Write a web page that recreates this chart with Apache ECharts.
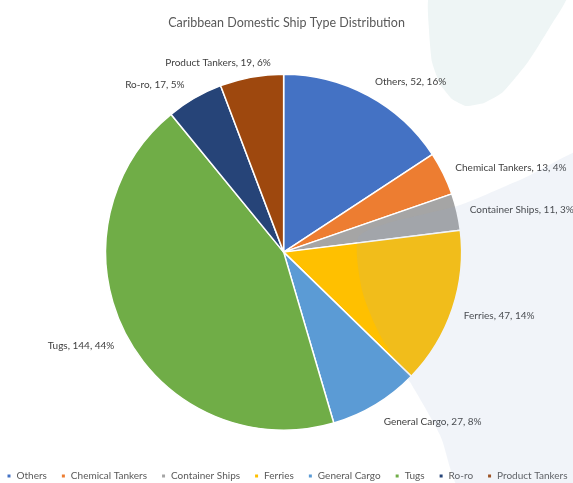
<!DOCTYPE html>
<html>
<head>
<meta charset="utf-8">
<script src="https://cdn.jsdelivr.net/npm/echarts@6/dist/echarts.min.js"></script>
<style>
  html, body { margin: 0; padding: 0; background: #ffffff; }
  #chart { width: 573px; height: 483px; }
</style>
</head>
<body>
<div id="chart"></div>
<script>
// Ship type categories and counts
var shipTypes = ['Others', 'Chemical Tankers', 'Container Ships', 'Ferries', 'General Cargo', 'Tugs', 'Ro-ro', 'Product Tankers'];
var shipCounts = [52, 13, 11, 47, 27, 144, 17, 19];
var sliceColors = ['#4472C4', '#ED7D31', '#A5A5A5', '#FFC000', '#5B9BD5', '#70AD47', '#264478', '#9E480E'];

var total = shipCounts.reduce(function (a, b) { return a + b; }, 0);

// small label nudges (px) so each label sits where a best-fit layout would put it
var labelNudge = {
  'Others': [-3, -5],
  'Chemical Tankers': [-2, -1],
  'Container Ships': [-2, 0],
  'Ferries': [-3, 4],
  'General Cargo': [-2, 9],
  'Tugs': [2, 6],
  'Ro-ro': [0, -5],
  'Product Tankers': [26, -4]
};

var chart = echarts.init(document.getElementById('chart'));

var option = {
  backgroundColor: '#ffffff',
  textStyle: { fontFamily: 'Lato, "Liberation Sans", sans-serif' },
  graphic: [
    {
      // pale leaf shape, top right
      type: 'polygon',
      silent: true,
      z: -10,
      shape: {
        points: [[430, -5], [429, 30], [432, 62], [440, 84], [452, 99], [466, 106], [484, 103], [503, 92], [528, 62], [550, 27], [567, -5]],
        smooth: 0.15
      },
      style: { fill: '#eef5f5' }
    },
    {
      // translucent panel laid over the lower right
      type: 'polygon',
      silent: true,
      z: 100,
      shape: {
        points: [[600, 150], [520, 180], [460, 205], [385, 224], [358, 238], [362, 290], [380, 335], [410, 382], [440, 435], [465, 495], [600, 495]],
        smooth: 0.25
      },
      style: { fill: 'rgba(150,172,205,0.13)' }
    }
  ],
  title: {
    text: 'Caribbean Domestic Ship Type Distribution',
    left: 'center',
    top: 11,
    textStyle: { fontSize: 12.5, fontWeight: 'normal', color: '#595959' }
  },
  legend: {
    data: shipTypes,
    top: 471,
    left: 'center',
    padding: 0,
    icon: 'rect',
    itemWidth: 5,
    itemHeight: 5,
    itemGap: 13,
    textStyle: { fontSize: 10, color: '#595959' }
  },
  series: [
    {
      type: 'pie',
      center: ['49.5%', '52.2%'],
      radius: 178,
      startAngle: 90,
      clockwise: true,
      data: shipTypes.map(function (name, i) {
        return { name: name, value: shipCounts[i], itemStyle: { color: sliceColors[i] } };
      }),
      itemStyle: { borderColor: '#ffffff', borderWidth: 1.5 },
      label: {
        show: true,
        position: 'outside',
        fontSize: 10,
        color: '#404040',
        overflow: 'none',
        formatter: function (p) {
          return p.name + ', ' + p.value + ', ' + Math.round(p.value / total * 100) + '%';
        }
      },
      labelLine: { show: false, length: 10, length2: 0 },
      labelLayout: function (params) {
        var n = labelNudge[shipTypes[params.dataIndex]] || [0, 0];
        return { dx: n[0], dy: n[1] };
      },
      emphasis: { disabled: true }
    }
  ]
};

chart.setOption(option);
</script>
</body>
</html>
